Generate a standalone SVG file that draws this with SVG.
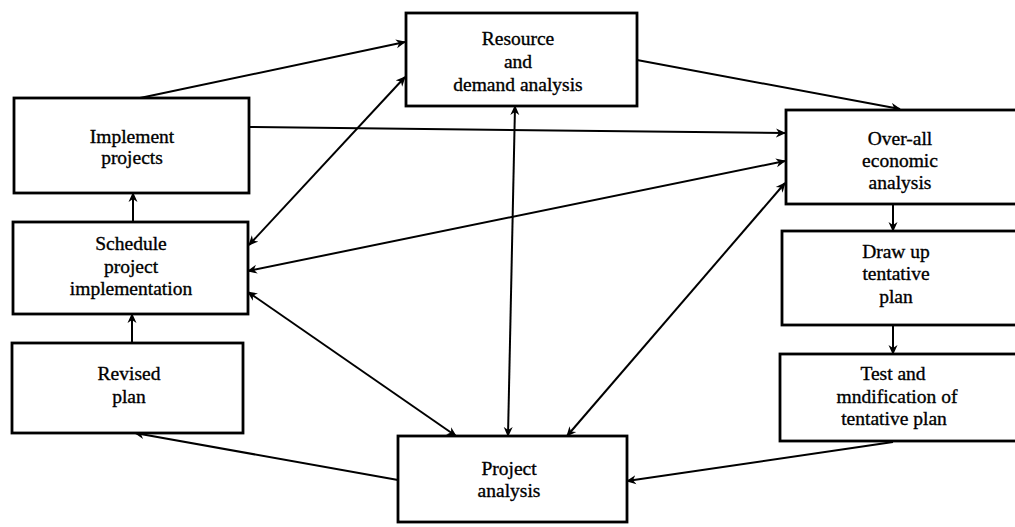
<svg xmlns="http://www.w3.org/2000/svg" width="1015" height="527" viewBox="0 0 1015 527">
  <style>
    .box { fill: #fff; stroke: #000; stroke-width: 2.8; }
    .lbl { font-family: "Liberation Serif", "Times New Roman", serif; font-size: 19.5px; fill: #000; stroke: #000; stroke-width: 0.35; text-anchor: middle; }
    .con { fill: none; stroke: #000; stroke-width: 2; }
  </style>
  <defs>
    <marker id="ah" viewBox="0 0 10 10" refX="9" refY="5" markerWidth="10" markerHeight="10" markerUnits="userSpaceOnUse" orient="auto-start-reverse">
      <path d="M0,0.5 L10,5 L0,9.5 L3,5 z" fill="#000"/>
    </marker>
  </defs>
  <rect width="1015" height="527" fill="#fff"/>

  <!-- connectors -->
  <g id="connectors">
    <line class="con" x1="140" y1="98" x2="405" y2="42" marker-end="url(#ah)"/>
    <line class="con" x1="249" y1="127" x2="785" y2="133" marker-end="url(#ah)"/>
    <line class="con" x1="637" y1="60" x2="900" y2="109" marker-end="url(#ah)"/>
    <line class="con" x1="249" y1="245" x2="405" y2="77" marker-start="url(#ah)" marker-end="url(#ah)"/>
    <line class="con" x1="248" y1="271" x2="785" y2="161" marker-start="url(#ah)" marker-end="url(#ah)"/>
    <line class="con" x1="248" y1="292" x2="456" y2="436" marker-start="url(#ah)" marker-end="url(#ah)"/>
    <line class="con" x1="515" y1="106" x2="508" y2="436" marker-start="url(#ah)" marker-end="url(#ah)"/>
    <line class="con" x1="785" y1="183" x2="567" y2="436" marker-start="url(#ah)" marker-end="url(#ah)"/>
    <line class="con" x1="893" y1="204" x2="893" y2="231" marker-end="url(#ah)"/>
    <line class="con" x1="893" y1="325" x2="893" y2="354" marker-end="url(#ah)"/>
    <line class="con" x1="893" y1="442" x2="627" y2="481" marker-end="url(#ah)"/>
    <line class="con" x1="398" y1="480" x2="135" y2="433" marker-end="url(#ah)"/>
    <line class="con" x1="132" y1="343" x2="132" y2="314" marker-end="url(#ah)"/>
    <line class="con" x1="133" y1="222" x2="133" y2="193" marker-end="url(#ah)"/>
  </g>

  <g id="resource">
    <rect class="box" x="406" y="13" width="231" height="93"/>
    <text class="lbl" x="518" y="45">Resource</text>
    <text class="lbl" x="518" y="68">and</text>
    <text class="lbl" x="518" y="91">demand analysis</text>
  </g>

  <g id="implement">
    <rect class="box" x="14" y="98" width="235" height="95"/>
    <text class="lbl" x="132" y="143">Implement</text>
    <text class="lbl" x="132" y="164">projects</text>
  </g>

  <g id="schedule">
    <rect class="box" x="13" y="222" width="235" height="92"/>
    <text class="lbl" x="131" y="250">Schedule</text>
    <text class="lbl" x="131" y="273">project</text>
    <text class="lbl" x="131" y="295">implementation</text>
  </g>

  <g id="revised">
    <rect class="box" x="12" y="343" width="231" height="90"/>
    <text class="lbl" x="129" y="380">Revised</text>
    <text class="lbl" x="129" y="403">plan</text>
  </g>

  <g id="project">
    <rect class="box" x="398" y="436" width="229" height="86"/>
    <text class="lbl" x="509" y="475">Project</text>
    <text class="lbl" x="509" y="497">analysis</text>
  </g>

  <g id="overall">
    <rect class="box" x="786" y="110" width="240" height="94"/>
    <text class="lbl" x="900" y="145">Over-all</text>
    <text class="lbl" x="900" y="167">economic</text>
    <text class="lbl" x="900" y="189">analysis</text>
  </g>

  <g id="draft">
    <rect class="box" x="782" y="231" width="244" height="94"/>
    <text class="lbl" x="896" y="258">Draw up</text>
    <text class="lbl" x="896" y="280">tentative</text>
    <text class="lbl" x="896" y="303">plan</text>
  </g>

  <g id="test">
    <rect class="box" x="780" y="354" width="246" height="87"/>
    <text class="lbl" x="893" y="380">Test and</text>
    <text class="lbl" x="897" y="403">mndification of</text>
    <text class="lbl" x="894" y="425">tentative plan</text>
  </g>
</svg>
